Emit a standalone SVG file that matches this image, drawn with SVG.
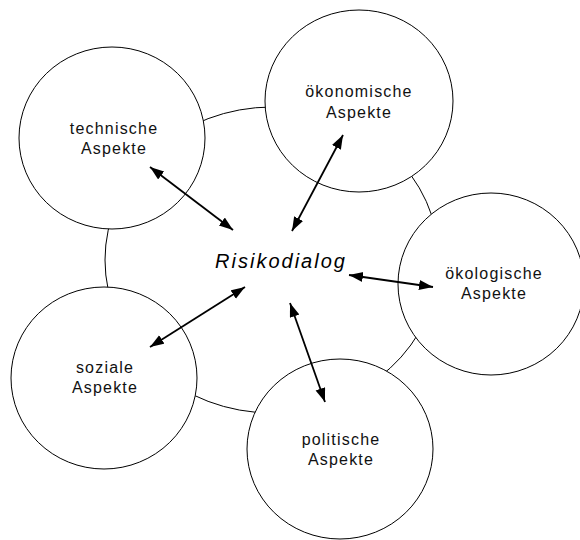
<svg xmlns="http://www.w3.org/2000/svg" width="580" height="540" viewBox="0 0 580 540">
<defs>
<style>
.ring{fill:none;stroke:#000;stroke-width:1}
.node{fill:#fff;stroke:#000;stroke-width:1}
.lbl{font-family:"Liberation Sans",Arial,sans-serif;font-size:16px;letter-spacing:1.2px;text-anchor:middle;fill:#111}
.title{font-family:"Liberation Sans",Arial,sans-serif;font-size:20px;font-style:italic;letter-spacing:2px;text-anchor:middle;fill:#000}
.arr{stroke:#000;stroke-width:1.8;fill:none;marker-start:url(#ah);marker-end:url(#ah)}
</style>
<marker id="ah" markerUnits="userSpaceOnUse" markerWidth="16" markerHeight="12" refX="14" refY="5" orient="auto-start-reverse">
<path d="M0,0 L14,5 L0,10 z" fill="#000"/>
</marker>
</defs>
<ellipse class="ring" cx="272" cy="260" rx="167" ry="153"/>
<g id="technische">
<ellipse class="node" cx="112" cy="138" rx="93" ry="91"/>
<text class="lbl" x="114" y="134">technische</text>
<text class="lbl" x="114" y="154">Aspekte</text>
</g>
<g id="oekonomische">
<ellipse class="node" cx="359" cy="101" rx="94" ry="91"/>
<text class="lbl" x="359" y="97">ökonomische</text>
<text class="lbl" x="359" y="118">Aspekte</text>
</g>
<g id="oekologische">
<ellipse class="node" cx="491" cy="284" rx="93" ry="91"/>
<text class="lbl" x="494" y="279">ökologische</text>
<text class="lbl" x="494" y="299">Aspekte</text>
</g>
<g id="soziale">
<ellipse class="node" cx="104" cy="378" rx="93" ry="91"/>
<text class="lbl" x="105" y="373">soziale</text>
<text class="lbl" x="105" y="393">Aspekte</text>
</g>
<g id="politische">
<ellipse class="node" cx="340" cy="449" rx="93" ry="90"/>
<text class="lbl" x="341" y="445">politische</text>
<text class="lbl" x="341" y="465">Aspekte</text>
</g>
<g id="risikodialog">
<text class="title" x="281" y="268">Risikodialog</text>
</g>
<g id="connectors">
<line class="arr" x1="150" y1="167" x2="233" y2="230"/>
<line class="arr" x1="343" y1="135" x2="292" y2="231"/>
<line class="arr" x1="349" y1="275" x2="433" y2="287"/>
<line class="arr" x1="290" y1="303" x2="325" y2="402"/>
<line class="arr" x1="150" y1="347" x2="245" y2="287"/>
</g>
</svg>
